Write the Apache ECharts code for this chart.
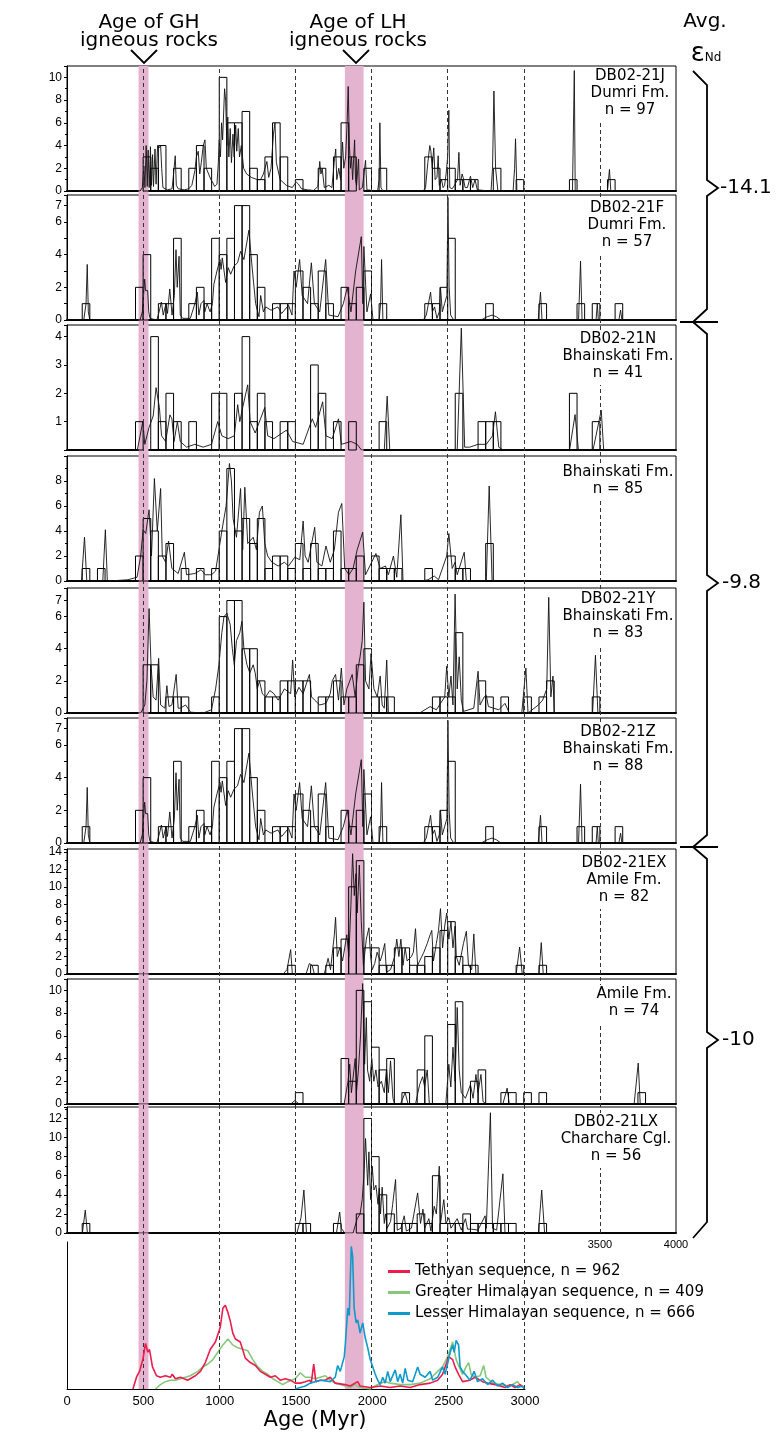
<!DOCTYPE html>
<html>
<head>
<meta charset="utf-8">
<script src="https://cdn.jsdelivr.net/npm/echarts@6/dist/echarts.min.js"></script>
<style>
html, body { margin: 0; padding: 0; background: #fff; }
#chart { width: 783px; height: 1435px; }
</style>
</head>
<body>
<div id="chart"></div>
<script>
// histogram bins: [bin start (Myr), count], bin width 50 Myr
var BIN = 50;
var binsJ = [[500,3],[550,2],[600,4],[700,2],[800,2],[850,4],[900,2],[1000,10],[1050,6],[1100,6],[1150,7],[1200,2],[1250,1],[1300,3],[1350,6],[1400,3],[1500,1],[1650,2],[1750,3],[1800,6],[1850,3],[1950,2],[2050,2],[2350,3],[2400,2],[2450,1],[2500,2],[2550,1],[2600,1],[2650,1],[2800,2],[2950,1],[3300,1],[3550,1]];
var binsF = [[100,1],[450,2],[500,4],[600,1],[650,1],[700,5],[800,1],[850,2],[900,1],[950,5],[1000,4],[1050,5],[1100,7],[1150,7],[1200,4],[1250,2],[1350,1],[1400,1],[1450,1],[1500,3],[1550,2],[1600,1],[1650,3],[1700,1],[1800,2],[1850,1],[1900,2],[1950,3],[2050,1],[2350,1],[2400,1],[2450,2],[2500,5],[2750,1],[3100,1],[3350,1],[3450,1],[3600,1]];
var binsN = [[450,1],[550,4],[600,1],[650,2],[700,1],[800,1],[950,2],[1000,2],[1100,2],[1150,4],[1200,1],[1250,2],[1300,1],[1400,1],[1450,1],[1600,3],[1650,2],[1750,1],[1850,1],[2050,1],[2550,2],[2700,1],[2750,1],[2800,1],[3300,2],[3450,1]];
var binsB = [[100,1],[200,1],[450,2],[500,5],[550,4],[600,2],[650,3],[750,1],[850,1],[950,1],[1000,4],[1050,9],[1100,4],[1150,5],[1200,3],[1250,5],[1300,1],[1350,2],[1400,2],[1450,1],[1500,3],[1550,1],[1600,3],[1650,1],[1700,1],[1750,4],[1800,1],[1850,1],[1900,2],[2000,2],[2050,1],[2100,1],[2150,1],[2350,1],[2500,2],[2550,1],[2600,1],[2750,3]];
var binsY = [[500,3],[550,3],[650,1],[700,1],[750,1],[950,1],[1000,6],[1050,7],[1100,7],[1150,4],[1200,4],[1250,2],[1300,1],[1350,1],[1400,2],[1450,2],[1500,2],[1550,2],[1650,1],[1700,1],[1750,2],[1800,1],[1850,1],[1900,3],[1950,4],[2000,1],[2050,1],[2100,1],[2400,1],[2450,1],[2500,1],[2550,5],[2700,2],[2750,1],[2850,1],[3000,1],[3100,1],[3150,2],[3450,1]];
var binsZ = [[100,1],[450,2],[500,4],[600,1],[650,1],[700,5],[800,1],[850,2],[900,1],[950,5],[1000,4],[1050,5],[1100,7],[1150,7],[1200,4],[1250,2],[1350,1],[1400,1],[1450,1],[1500,3],[1550,2],[1600,1],[1650,3],[1700,1],[1800,2],[1850,1],[1900,2],[1950,3],[2050,1],[2350,1],[2400,1],[2450,2],[2500,5],[2750,1],[3100,1],[3350,1],[3450,1],[3600,1]];
var binsEX = [[1450,1],[1600,1],[1700,1],[1750,3],[1800,4],[1850,10],[1900,13],[1950,3],[2000,3],[2050,1],[2100,1],[2150,3],[2200,3],[2250,1],[2300,1],[2350,2],[2400,3],[2450,5],[2500,6],[2550,2],[2600,1],[2650,1],[2950,1],[3100,1]];
var binsA = [[1500,1],[1800,4],[1850,2],[1900,10],[1950,9],[2000,5],[2050,3],[2100,4],[2200,1],[2300,3],[2350,6],[2500,7],[2550,9],[2650,2],[2700,3],[2850,1],[2900,1],[3000,1],[3100,1],[3750,1]];
var binsLX = [[100,1],[1500,1],[1550,1],[1750,1],[1900,2],[1950,12],[2000,8],[2050,4],[2100,2],[2150,1],[2200,1],[2250,1],[2300,2],[2350,1],[2400,6],[2450,1],[2500,1],[2550,1],[2600,2],[2650,1],[2700,1],[2750,1],[2800,1],[2850,1],[2900,1],[3100,1]];

// probability density curves: [age (Myr), value]
var curveJ = [[0,0],[480,0],[495,0.3],[505,2.2],[512,0.3],[520,4.0],[527,0.4],[533,3.6],[540,0.3],[548,3.9],[555,0.5],[562,3.2],[568,0.4],[578,3.7],[585,0.6],[595,4.0],[605,3.8],[615,4.0],[622,2],[630,0.3],[660,0.1],[690,0.2],[700,1.5],[711,3.1],[718,0.5],[730,0.2],[770,0.1],[800,0.2],[820,0.5],[840,1.8],[850,3],[862,3.5],[872,1.5],[882,2.5],[895,4.0],[906,4.5],[915,2],[930,1.5],[945,1],[955,0.8],[970,0.4],[985,0.6],[994,2.5],[1000,4.5],[1008,3.0],[1015,6],[1022,4.5],[1035,9.0],[1042,8],[1050,4],[1056,6.5],[1063,3],[1072,5.5],[1080,2.5],[1090,5],[1098,3],[1108,5.8],[1115,3.5],[1125,5.5],[1133,3],[1145,4],[1160,2],[1180,1.5],[1210,1.2],[1250,1],[1272,1.0],[1290,1.5],[1313,2.6],[1325,1.2],[1340,2],[1356,5],[1366,6.0],[1375,2.5],[1385,2.5],[1400,1],[1440,0.5],[1480,0.3],[1505,0.8],[1520,0.6],[1540,0.2],[1580,0.1],[1620,0.05],[1648,0.4],[1660,2.6],[1668,1.5],[1676,2.0],[1690,0.3],[1720,0.5],[1740,0.3],[1755,2.5],[1765,3.7],[1772,1],[1785,2],[1797,1],[1810,4.3],[1818,2],[1830,3],[1840,6],[1847,9.2],[1855,4],[1862,2],[1869,3],[1876,1],[1889,4.5],[1895,1],[1902,0.5],[1915,2.8],[1920,0.1],[1940,0.3],[1950,0.2],[1961,2.7],[1970,0.1],[2040,0],[2050,1],[2055,6.0],[2062,0.3],[2075,0],[2340,0],[2355,0.3],[2370,2.5],[2383,4.0],[2390,3.5],[2399,2],[2409,3.8],[2418,1],[2430,1.2],[2438,3.1],[2445,0.5],[2460,1],[2470,0.3],[2480,0.5],[2490,1.5],[2500,3],[2508,7.1],[2514,0.3],[2530,0.2],[2545,0.5],[2565,1],[2574,3.4],[2582,0.5],[2595,1.5],[2602,1.2],[2615,0.3],[2630,0.3],[2650,1.3],[2665,0.3],[2680,1.0],[2695,0.1],[2785,0],[2795,2],[2804,8.8],[2815,2],[2830,0],[2930,0],[2940,2],[2946,4.6],[2955,0],[3320,0],[3332,10.6],[3338,0],[3550,0],[3563,1.9],[3572,0],[4000,0]];
var curveF = [[0,0],[110,0],[125,1],[133,3.4],[140,0.5],[150,0],[480,0],[495,0.5],[505,1.8],[510,2.5],[516,1.8],[524,1.9],[530,1.8],[537,0.5],[545,0.1],[590,0],[605,0.5],[620,1.1],[632,0.3],[650,1.0],[660,0.4],[675,1.9],[690,0.3],[705,1.5],[716,4.3],[724,2],[736,3.9],[744,0.3],[760,0.1],[810,0.1],[840,1.0],[856,1.7],[866,0.3],[880,1],[900,1.2],[905,0.5],[920,1.0],[940,0.5],[955,1.0],[965,2.2],[985,3.0],[1005,3.7],[1012,3.1],[1020,3.8],[1042,2.3],[1059,3.2],[1075,2.8],[1097,3.3],[1120,3.5],[1140,4.2],[1162,3.7],[1195,5.5],[1213,3.5],[1239,1],[1261,0.2],[1272,1.5],[1290,0.5],[1305,0.8],[1340,0.6],[1385,0.8],[1410,0.4],[1455,0.9],[1478,0.3],[1491,3],[1505,2],[1528,3.7],[1545,1.5],[1580,1],[1605,3.5],[1625,1],[1660,0.5],[1699,3.7],[1720,0.3],[1780,0.2],[1815,1],[1841,2.0],[1865,0.5],[1896,3],[1933,5.1],[1943,1],[1950,4.5],[1970,0.5],[1994,1.6],[2010,0],[2050,0],[2060,1],[2066,3.7],[2075,0],[2340,0],[2360,0.3],[2388,1.7],[2400,0.5],[2414,0.8],[2430,0.1],[2445,0.5],[2453,2.0],[2465,0.5],[2480,1.0],[2495,1.5],[2502,7.5],[2510,2],[2520,0.3],[2540,0],[2720,0],[2760,0.2],[2792,0.3],[2820,0.2],[2850,0],[3095,0],[3110,1.7],[3120,0],[3360,0],[3373,3.6],[3383,0],[3475,0],[3483,1],[3490,0],[3625,0],[3636,0.6],[3645,0],[4000,0]];
var curveN = [[0,0],[462,0],[498,1.0],[511,0.2],[539,0.8],[566,1.2],[585,2.2],[607,1.5],[621,0.5],[648,0.3],[676,1.24],[689,1.1],[703,0.3],[725,1.0],[744,0.3],[785,0.1],[840,0.2],[894,0.1],[949,0.2],[990,1.0],[1017,0.5],[1058,0.4],[1099,0.5],[1121,1.6],[1135,1.0],[1154,1.5],[1187,2.3],[1203,1.0],[1236,0.6],[1299,1.5],[1318,0.5],[1359,0.4],[1441,0.7],[1482,0.3],[1551,0.2],[1611,1.1],[1633,0.8],[1679,1.7],[1701,0.5],[1742,0.4],[1783,1.1],[1802,0.2],[1865,0.3],[1906,0.2],[1934,0],[2084,0],[2103,1.9],[2120,0],[2563,0],[2590,4.3],[2612,0.1],[2645,0.1],[2699,0.2],[2754,0.2],[2795,0.5],[2814,1.35],[2836,0.1],[2863,0],[3301,0],[3337,1.25],[3359,0],[3455,0],[3509,1.4],[3525,0],[4000,0]];
var curveB = [[0,0],[95,0],[115,3.5],[130,0],[235,0],[252,4.1],[265,0],[300,0.02],[400,0.1],[460,0.3],[484,2],[500,4.1],[517,3.8],[539,5.7],[555,2],[574,8.2],[593,4],[615,7.4],[626,2],[648,1.5],[667,3.2],[689,1],[730,0.6],[771,2.3],[785,0.5],[840,0.6],[881,0.9],[908,0.5],[949,0.5],[976,0.8],[998,2.5],[1017,4],[1045,6],[1067,9.4],[1080,8],[1091,5],[1113,3.5],[1140,7.4],[1154,2.5],[1168,7.5],[1187,3],[1223,3.5],[1244,2.5],[1264,5.5],[1283,6.0],[1299,3],[1318,2],[1346,1.5],[1387,1.2],[1428,1.5],[1455,1.2],[1496,1.9],[1529,1.7],[1551,4.8],[1564,2],[1584,1.5],[1627,4.3],[1641,1.5],[1674,1.2],[1701,2.8],[1729,1.5],[1756,2.5],[1783,5.5],[1805,6.2],[1824,1],[1852,0.5],[1879,1],[1906,2.5],[1942,3.9],[1961,0.5],[2029,2.2],[2057,1],[2092,1.2],[2111,0.5],[2144,2.0],[2166,0.3],[2193,5.3],[2207,0],[2330,0],[2371,0.1],[2412,0.4],[2440,0.1],[2494,2],[2508,3.8],[2530,1],[2549,1.5],[2563,0.5],[2609,2.3],[2623,0],[2754,0],[2773,7.6],[2792,0],[4000,0]];
var curveY = [[0,0],[484,0],[511,0.5],[525,2],[539,6.5],[552,3],[566,1],[585,0.8],[602,3.4],[615,0.5],[643,0.3],[656,1.7],[670,0.4],[689,0.5],[717,2.4],[730,0.3],[744,0.3],[779,0.5],[812,0.05],[894,0],[949,0.2],[976,1.5],[998,3],[1017,5],[1031,6],[1050,6.2],[1072,5.5],[1086,4],[1099,3],[1113,4.5],[1135,5],[1149,5.7],[1162,4],[1182,3],[1201,2.5],[1223,3],[1236,2.5],[1250,1.5],[1264,2],[1283,1.2],[1305,1],[1332,1.4],[1359,1.2],[1387,0.8],[1428,1.5],[1469,1.2],[1482,3.3],[1496,1],[1523,1.6],[1551,1.2],[1592,2.4],[1606,1],[1627,0.8],[1660,0.5],[1701,0.6],[1729,1.2],[1742,2],[1764,2.4],[1783,0.8],[1802,2.8],[1819,0.5],[1838,1.5],[1873,2.4],[1893,1],[1912,2.8],[1925,3.5],[1939,4.5],[1950,6.9],[1961,2],[1983,1.5],[1997,3.7],[2016,1.5],[2038,1],[2057,2.3],[2070,0.5],[2084,0.3],[2100,3.3],[2111,0],[2316,0],[2385,0.4],[2426,0.2],[2481,1],[2494,2.9],[2508,1],[2522,2.3],[2535,0.5],[2549,7.4],[2563,1.5],[2576,3.5],[2590,0.8],[2604,0.1],[2672,0.3],[2700,2.6],[2713,0.5],[2740,1],[2754,1.1],[2768,0.4],[2836,0.2],[2877,0.6],[2905,0],[2987,0],[3014,2.8],[3028,0],[3096,0.5],[3124,0.8],[3151,1.5],[3164,7.2],[3178,1],[3192,2.3],[3200,0],[3452,0],[3471,3.6],[3487,0],[4000,0]];
var curveZ = [[0,0],[110,0],[125,1],[133,3.4],[140,0.5],[150,0],[480,0],[495,0.5],[505,1.8],[510,2.5],[516,1.8],[524,1.9],[530,1.8],[537,0.5],[545,0.1],[590,0],[605,0.5],[620,1.1],[632,0.3],[650,1.0],[660,0.4],[675,1.9],[690,0.3],[705,1.5],[716,4.3],[724,2],[736,3.9],[744,0.3],[760,0.1],[810,0.1],[840,1.0],[856,1.7],[866,0.3],[880,1],[900,1.2],[905,0.5],[920,1.0],[940,0.5],[955,1.0],[965,2.2],[985,3.0],[1005,3.7],[1012,3.1],[1020,3.8],[1042,2.3],[1059,3.2],[1075,2.8],[1097,3.3],[1120,3.5],[1140,4.2],[1162,3.7],[1195,5.5],[1213,3.5],[1239,1],[1261,0.2],[1272,1.5],[1290,0.5],[1305,0.8],[1340,0.6],[1385,0.8],[1410,0.4],[1455,0.9],[1478,0.3],[1491,3],[1505,2],[1528,3.7],[1545,1.5],[1580,1],[1605,3.5],[1625,1],[1660,0.5],[1699,3.7],[1720,0.3],[1780,0.2],[1815,1],[1841,2.0],[1865,0.5],[1896,3],[1933,5.1],[1943,1],[1950,4.5],[1970,0.5],[1994,1.6],[2010,0],[2050,0],[2060,1],[2066,3.7],[2075,0],[2340,0],[2360,0.3],[2388,1.7],[2400,0.5],[2414,0.8],[2430,0.1],[2445,0.5],[2453,2.0],[2465,0.5],[2480,1.0],[2495,1.5],[2502,7.5],[2510,2],[2520,0.3],[2540,0],[2720,0],[2760,0.2],[2792,0.3],[2820,0.2],[2850,0],[3095,0],[3110,1.7],[3120,0],[3360,0],[3373,3.6],[3383,0],[3475,0],[3483,1],[3490,0],[3625,0],[3636,0.6],[3645,0],[4000,0]];
var curveEX = [[0,0],[1420,0],[1445,0.5],[1469,2.8],[1480,0],[1570,0],[1592,1.2],[1610,1],[1625,0],[1690,0],[1715,1.8],[1731,0.5],[1756,4.5],[1764,6.5],[1775,2],[1791,3],[1810,1.5],[1824,3],[1838,4.5],[1851,2],[1865,8],[1876,13.8],[1887,9],[1898,11.5],[1906,7],[1920,12.5],[1933,6],[1947,1],[1966,4],[1983,5.3],[1994,2],[2005,0.5],[2021,1.2],[2037,2.5],[2057,1.5],[2070,2.2],[2087,3.5],[2098,0.2],[2125,0.5],[2152,2],[2166,4],[2180,2],[2193,4],[2207,1],[2221,3],[2234,1.5],[2262,2],[2275,2.5],[2289,5.2],[2303,1],[2330,2],[2344,2.5],[2366,3.5],[2385,4.5],[2396,5],[2407,1.5],[2426,3.5],[2440,5],[2453,7.5],[2467,3],[2481,5.5],[2494,7],[2508,4],[2522,6],[2535,3],[2549,5.5],[2557,2],[2576,1],[2604,3.5],[2623,4.9],[2637,1],[2658,0.5],[2672,4.6],[2686,0],[2950,0],[2973,3.1],[2990,0],[3100,0],[3115,3.6],[3128,0],[4000,0]];
var curveA = [[0,0],[1470,0],[1496,0.3],[1525,0],[1820,0],[1846,2],[1857,3.5],[1868,1],[1893,4],[1901,1],[1914,3],[1928,6],[1942,10.6],[1955,3.5],[1966,7.6],[1974,3],[1988,2],[2002,4],[2015,2],[2029,3],[2043,1.5],[2065,2],[2084,1],[2098,3],[2111,1],[2125,3.8],[2141,0.5],[2152,0],[2190,0],[2221,1],[2240,0],[2289,0],[2316,1.7],[2336,2.4],[2349,1.5],[2366,3],[2380,0],[2488,0],[2508,3.5],[2521,1.5],[2535,5],[2549,2],[2563,8.5],[2576,3],[2590,1],[2617,0.5],[2650,1.7],[2667,0.5],[2686,2.6],[2700,1],[2719,2.6],[2733,0.2],[2755,0],[2863,0],[2891,1.4],[2905,0],[3725,0],[3752,3.6],[3765,0],[4000,0]];
var curveLX = [[0,0],[101,0],[120,2.4],[134,0],[1510,0],[1537,1.6],[1556,4.5],[1573,0],[1770,0],[1791,2.2],[1802,0.5],[1824,0],[1879,0],[1906,1.5],[1925,2],[1939,3.5],[1950,6],[1961,9.9],[1975,5],[1983,8.5],[1994,3.5],[2005,7],[2016,4.5],[2029,5],[2043,3],[2051,4.7],[2059,2],[2070,4.8],[2084,1],[2092,2],[2103,0.5],[2125,1.2],[2139,3],[2158,5.6],[2169,0.3],[2193,0.5],[2215,1.8],[2229,0.2],[2262,0.5],[2303,4.2],[2322,1],[2338,2.5],[2349,0.5],[2377,1.5],[2390,0.2],[2412,2.8],[2426,2],[2445,7],[2453,1],[2475,3.5],[2489,1],[2508,1.6],[2522,0.5],[2563,1.5],[2590,0.3],[2617,1.5],[2631,0.4],[2658,0.4],[2699,0.3],[2746,1.8],[2754,0.5],[2781,12.6],[2795,0.5],[2822,0.3],[2863,6.2],[2877,0],[3096,0],[3118,4.5],[3137,0],[4000,0]];

// summary curves (relative frequency, arbitrary units)
var tethyan = [[432,0],[455,8],[475,12],[497,20],[514,31],[530,25],[540,27],[560,15],[586,9],[612,8],[645,9],[677,8],[690,10],[710,7],[743,8],[790,6],[841,9],[874,12],[906,18],[939,27],[972,32],[1004,42],[1021,55],[1037,57],[1054,52],[1070,46],[1086,38],[1103,34],[1135,32],[1168,21],[1201,18],[1234,16],[1266,12],[1299,10],[1332,8],[1364,9],[1397,6],[1430,7],[1463,6],[1495,4],[1528,4],[1561,5],[1590,6],[1600,4],[1616,17],[1630,5],[1659,6],[1692,6],[1724,8],[1757,4],[1822,3],[1855,2],[1904,5],[1920,2],[1986,1],[2052,2],[2117,1],[2182,2],[2248,1],[2313,3],[2379,4],[2428,6],[2460,10],[2487,18],[2500,22],[2526,20],[2542,15],[2565,10],[2591,5],[2640,6],[2673,8],[2722,5],[2755,4],[2804,3],[2837,2],[2870,1],[2902,3],[2935,1],[2968,3],[2994,1]];
var greater = [[579,0],[612,3],[645,5],[677,6],[710,6],[743,7],[775,8],[808,9],[857,12],[890,15],[923,17],[955,20],[988,25],[1021,30],[1054,34],[1086,30],[1119,28],[1152,27],[1185,26],[1217,20],[1250,15],[1283,12],[1315,10],[1348,7],[1381,5],[1413,3],[1446,5],[1495,7],[1528,11],[1561,8],[1593,8],[1626,7],[1659,8],[1692,9],[1724,6],[1757,4],[1790,3],[1822,2],[1855,1],[1888,3],[1920,1],[1953,0.5],[1986,0],[2019,2],[2052,4],[2084,5],[2117,4],[2182,3],[2248,3],[2313,4],[2379,7],[2428,12],[2460,15],[2493,22],[2526,32],[2549,20],[2569,15],[2591,10],[2614,15],[2631,18],[2647,10],[2673,8],[2706,9],[2729,16],[2745,8],[2788,4],[2837,3],[2902,2],[2951,5],[2984,1]];
var lesser = [[1495,0],[1528,1],[1561,2],[1593,4],[1659,6],[1724,5],[1757,8],[1773,16],[1790,12],[1816,22],[1823,30],[1839,55],[1849,50],[1862,97],[1871,90],[1881,55],[1894,45],[1904,47],[1920,38],[1937,45],[1953,35],[1970,28],[1986,20],[2003,15],[2019,10],[2035,6],[2052,3],[2068,8],[2084,4],[2101,12],[2117,5],[2150,13],[2166,5],[2182,10],[2199,4],[2215,14],[2232,6],[2264,5],[2297,15],[2313,10],[2346,8],[2379,12],[2395,6],[2428,8],[2460,15],[2477,10],[2510,25],[2526,30],[2536,25],[2549,33],[2565,30],[2575,15],[2591,12],[2608,10],[2640,6],[2667,12],[2689,5],[2722,7],[2755,3],[2788,6],[2820,2],[2853,4],[2886,1],[2919,3],[2951,1],[2984,2],[2994,0]];

var ghBand = [470, 535];
var lhBand = [1825, 1948];
var dashAges = [500, 1000, 1500, 2000, 2500, 3000];

var panels = [
    {bins: binsJ, curve: curveJ, top: 66, max: 11, interval: 2, labels: [0,2,4,6,8,10], minor: true, text: 'DB02-21J\nDumri Fm.\nn = 97', tx: 630, ty: 67},
    {bins: binsF, curve: curveF, top: 195, max: 7.65, interval: 1, labels: [0,2,4,6,7], minor: false, text: 'DB02-21F\nDumri Fm.\nn = 57', tx: 627, ty: 199},
    {bins: binsN, curve: curveN, top: 325, max: 4.41, interval: 1, labels: [1,2,3,4], minor: false, text: 'DB02-21N\nBhainskati Fm.\nn = 41', tx: 618, ty: 330},
    {bins: binsB, curve: curveB, top: 456, max: 10, interval: 2, labels: [0,2,4,6,8], minor: true, text: 'Bhainskati Fm.\nn = 85', tx: 618, ty: 463},
    {bins: binsY, curve: curveY, top: 588, max: 7.78, interval: 1, labels: [0,2,4,6,7], minor: false, text: 'DB02-21Y\nBhainskati Fm.\nn = 83', tx: 618, ty: 590},
    {bins: binsZ, curve: curveZ, top: 718, max: 7.65, interval: 1, labels: [0,2,4,6,7], minor: false, text: 'DB02-21Z\nBhainskati Fm.\nn = 88', tx: 618, ty: 723},
    {bins: binsEX, curve: curveEX, top: 849, max: 14.34, interval: 2, labels: [0,2,4,6,8,10,12,14], minor: true, text: 'DB02-21EX\nAmile Fm.\nn = 82', tx: 624, ty: 854},
    {bins: binsA, curve: curveA, top: 979, max: 11, interval: 2, labels: [0,2,4,6,8,10], minor: true, text: 'Amile Fm.\nn = 74', tx: 634, ty: 985},
    {bins: binsLX, curve: curveLX, top: 1107, max: 13.2, interval: 2, labels: [0,2,4,6,8,10,12], minor: true, text: 'DB02-21LX\nCharchare Cgl.\nn = 56', tx: 616, ty: 1113}
];

var grids = [], xAxes = [], yAxes = [], series = [], graphics = [];
var TXT = '"DejaVu Sans", sans-serif';
var NUM = '"Liberation Sans", Arial, sans-serif';

panels.forEach(function (p, i) {
    grids.push({left: 67, width: 609, top: p.top, height: i === 8 ? 126 : 125, show: true,
        borderColor: '#000', borderWidth: 1, backgroundColor: 'transparent', outerBoundsMode: 'none'});
    xAxes.push({gridIndex: i, type: 'value', min: 0, max: 4000, interval: 500,
        axisLine: {show: true, onZero: false, lineStyle: {color: '#000', width: 2}},
        axisTick: {show: false}, splitLine: {show: false},
        axisLabel: {show: i === 8, color: '#000', fontSize: 11, fontFamily: NUM, margin: 6,
            formatter: function (v) { return (v === 3500 || v === 4000) ? String(v) : ''; }}});
    yAxes.push({gridIndex: i, type: 'value', min: 0, max: p.max, interval: p.interval,
        axisLine: {show: true, lineStyle: {color: '#000', width: 1}},
        axisTick: {show: true, length: 3, lineStyle: {color: '#000'}},
        minorTick: {show: p.minor, splitNumber: 2, length: 2, lineStyle: {color: '#000'}},
        splitLine: {show: false}, minorSplitLine: {show: false},
        axisLabel: {color: '#000', fontSize: 12, fontFamily: NUM, margin: 5, showMaxLabel: true,
            formatter: function (v) { return p.labels.indexOf(v) >= 0 ? String(v) : ''; }}});
    series.push({type: 'custom', xAxisIndex: i, yAxisIndex: i, z: 3, data: p.bins,
        encode: {x: 0, y: 1},
        renderItem: function (params, api) {
            var a = api.coord([api.value(0), 0]);
            var b = api.coord([api.value(0) + BIN, api.value(1)]);
            return {type: 'rect', shape: {x: a[0], y: b[1], width: b[0] - a[0], height: a[1] - b[1]},
                style: {fill: 'none', stroke: '#000', lineWidth: 1}};
        }});
    series.push({type: 'line', xAxisIndex: i, yAxisIndex: i, z: 4, data: p.curve,
        symbol: 'none', lineStyle: {color: '#111', width: 0.9}});
    graphics.push({type: 'text', z: 100, style: {text: p.text, x: p.tx, y: p.ty,
        align: 'center', verticalAlign: 'top', font: '15px ' + TXT, lineHeight: 17,
        fill: '#000', backgroundColor: '#fff', padding: [1, 0, 3, 0]}});
});

// bottom summary panel (grid 9)
grids.push({left: 67, width: 458, top: 1242, height: 147, show: false, outerBoundsMode: 'none'});
xAxes.push({gridIndex: 9, type: 'value', min: 0, max: 3000, interval: 500,
    axisLine: {show: true, lineStyle: {color: '#000', width: 1}}, axisTick: {show: false},
    splitLine: {show: false},
    axisLabel: {color: '#000', fontSize: 13, fontFamily: NUM, margin: 6,
        formatter: function (v) { return String(v); }}});
yAxes.push({gridIndex: 9, type: 'value', min: 0, max: 100,
    axisLine: {show: true, lineStyle: {color: '#000', width: 1}}, axisTick: {show: false},
    axisLabel: {show: false}, splitLine: {show: false}});
series.push({name: 'Greater Himalayan sequence, n = 409', type: 'line', xAxisIndex: 9, yAxisIndex: 9,
    data: greater, symbol: 'none', z: 4, color: '#86c77c', lineStyle: {color: '#86c77c', width: 1.6}});
series.push({name: 'Tethyan sequence, n = 962', type: 'line', xAxisIndex: 9, yAxisIndex: 9,
    data: tethyan, symbol: 'none', z: 5, color: '#ec1c4c', lineStyle: {color: '#ec1c4c', width: 1.6}});
series.push({name: 'Lesser Himalayan sequence, n = 666', type: 'line', xAxisIndex: 9, yAxisIndex: 9,
    data: lesser, symbol: 'none', z: 6, color: '#0f9acb', lineStyle: {color: '#0f9acb', width: 1.6}});

// overlay: age bands + dashed age lines running through all panels (grid 10)
grids.push({left: 67, width: 609, top: 66, height: 1323, show: false, outerBoundsMode: 'none'});
xAxes.push({gridIndex: 10, type: 'value', min: 0, max: 4000, show: false});
yAxes.push({gridIndex: 10, type: 'value', min: 0, max: 1, show: false});
series.push({type: 'line', xAxisIndex: 10, yAxisIndex: 10, data: [], z: 1, silent: true,
    markArea: {silent: true, itemStyle: {color: '#e4b3cf'},
        data: [[{xAxis: ghBand[0]}, {xAxis: ghBand[1]}], [{xAxis: lhBand[0]}, {xAxis: lhBand[1]}]]},
    markLine: {silent: true, symbol: 'none', label: {show: false},
        lineStyle: {color: '#333', width: 1, type: [4, 3]},
        data: dashAges.map(function (a) { return {xAxis: a}; })}});
// 3500 line only spans the histogram panels (grid 11)
grids.push({left: 67, width: 609, top: 66, height: 1167, show: false, outerBoundsMode: 'none'});
xAxes.push({gridIndex: 11, type: 'value', min: 0, max: 4000, show: false});
yAxes.push({gridIndex: 11, type: 'value', min: 0, max: 1, show: false});
series.push({type: 'line', xAxisIndex: 11, yAxisIndex: 11, data: [], z: 1, silent: true,
    markLine: {silent: true, symbol: 'none', label: {show: false},
        lineStyle: {color: '#333', width: 1, type: [4, 3]}, data: [{xAxis: 3500}]}});

// annotations
function txt(s, x, y, size, align, extra) {
    var o = {type: 'text', z: 100, style: {text: s, x: x, y: y, font: size + 'px ' + TXT,
        align: align || 'center', verticalAlign: 'middle', fill: '#000'}};
    if (extra) { for (var k in extra) o[k] = extra[k]; }
    return o;
}
graphics.push(txt('Age of GH', 149, 23, 20));
graphics.push(txt('igneous rocks', 149, 41, 20));
graphics.push(txt('Age of LH', 358, 23, 20));
graphics.push(txt('igneous rocks', 358, 41, 20));
graphics.push({type: 'polyline', z: 100, shape: {points: [[131, 50], [144, 63], [157, 50]]},
    style: {stroke: '#000', lineWidth: 1.8, fill: null}});
graphics.push({type: 'polyline', z: 100, shape: {points: [[343, 50], [356, 63], [369, 50]]},
    style: {stroke: '#000', lineWidth: 1.8, fill: null}});
graphics.push(txt('Avg.', 705, 22, 20));
graphics.push({type: 'text', z: 100, style: {text: '{e|ε}{s|Nd}', x: 706, y: 54, align: 'center',
    verticalAlign: 'middle', rich: {e: {fontSize: 26, fontFamily: TXT, fill: '#000'},
        s: {fontSize: 12, fontFamily: TXT, fill: '#000', padding: [8, 0, 0, 0]}}}});
graphics.push(txt('-14.1', 720, 188, 20, 'left'));
graphics.push(txt('-9.8', 722, 583, 20, 'left'));
graphics.push(txt('-10', 722, 1040, 20, 'left'));
graphics.push(txt('Age (Myr)', 315, 1421, 21));
graphics.push(txt('Relative Frequency', 21, 1260, 22, 'center', {rotation: Math.PI / 2, x: 0, y: 0}));
var braces = [
    [[693, 71], [707, 85], [707, 180], [718, 188], [707, 196], [707, 309], [693, 322]],
    [[693, 322], [707, 334], [707, 575], [718, 583], [707, 591], [707, 835], [693, 847]],
    [[693, 847], [707, 859], [707, 1032], [718, 1040], [707, 1048], [707, 1222], [693, 1238]],
    [[680, 322], [718, 322]],
    [[680, 847], [718, 847]]
];
braces.forEach(function (pts) {
    graphics.push({type: 'polyline', z: 100, shape: {points: pts},
        style: {stroke: '#000', lineWidth: 1.8, fill: null}});
});

var chart = echarts.init(document.getElementById('chart'));
chart.setOption({
    animation: false,
    backgroundColor: '#fff',
    textStyle: {fontFamily: TXT},
    grid: grids,
    xAxis: xAxes,
    yAxis: yAxes,
    series: series,
    legend: {left: 383, top: 1258, orient: 'vertical', icon: 'rect', itemWidth: 22, itemHeight: 3,
        itemGap: 4, selectedMode: false,
        textStyle: {fontSize: 15, fontFamily: TXT, color: '#000', lineHeight: 17},
        data: ['Tethyan sequence, n = 962', 'Greater Himalayan sequence, n = 409', 'Lesser Himalayan sequence, n = 666']},
    graphic: graphics
});
</script>
</body>
</html>
